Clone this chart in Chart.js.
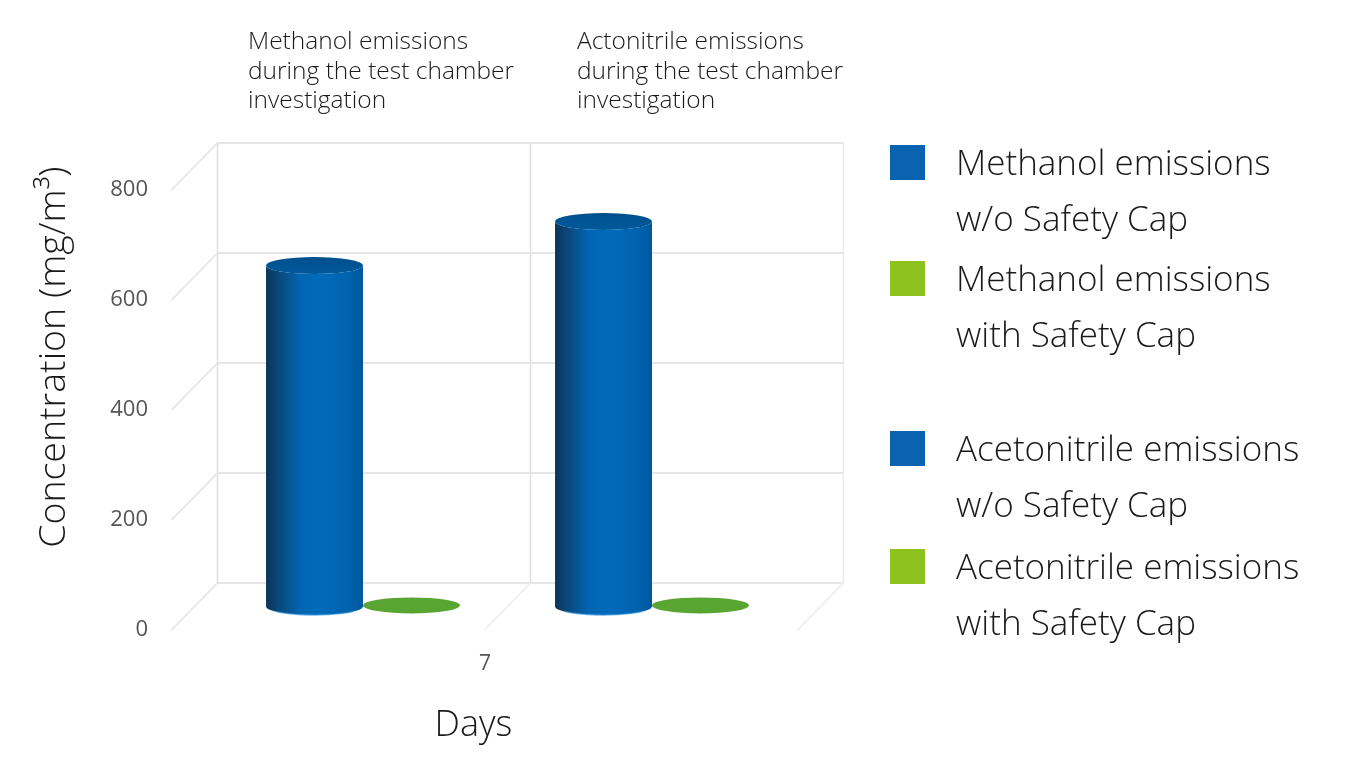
<!DOCTYPE html>
<html>
<head>
<meta charset="utf-8">
<script src="https://cdn.jsdelivr.net/npm/chart.js@4.4.1/dist/chart.umd.min.js"></script>
<style>
  html, body { margin: 0; padding: 0; background: #ffffff; }
  #wrap { position: relative; width: 1364px; height: 777px; overflow: hidden; font-family: "Open Sans", "Noto Sans", sans-serif; color: #1a1a1a; }
  #c { position: absolute; left: 0; top: 0; }
  .ctitle { position: absolute; font-size: 24.5px; line-height: 29.5px; white-space: nowrap; font-weight: 300; }
  .lg { position: absolute; left: 890px; }
  .lg .sw { position: absolute; left: 0; top: 10.5px; width: 35px; height: 35px; }
  .lg .tx { position: absolute; left: 66px; top: 0; font-size: 35px; line-height: 56px; white-space: nowrap; font-weight: 300; }
</style>
</head>
<body>
<div id="wrap">
  <canvas id="c" width="1364" height="777"></canvas>
</div>
<script>
// ---------------- data ----------------
const categories = ['Methanol', 'Acetonitrile'];
const xTickLabels = ['7', ''];
const yTicks = [0, 200, 400, 600, 800];
const seriesNames = [
  ['Methanol emissions', 'w/o Safety Cap'],
  ['Methanol emissions', 'with Safety Cap'],
  ['Acetonitrile emissions', 'w/o Safety Cap'],
  ['Acetonitrile emissions', 'with Safety Cap']
];
const methanolWithout = [620, null];
const methanolWith = [2, null];
const acetonitrileWithout = [null, 700];
const acetonitrileWith = [null, 2];
const chartTitles = [
  ['Methanol emissions', 'during the test chamber', 'investigation'],
  ['Actonitrile emissions', 'during the test chamber', 'investigation']
];
const yAxisTitle = 'Concentration (mg/m\u00B3)';
const xAxisTitle = 'Days';

// ---------------- styles ----------------
const FONT = '"Open Sans", "Noto Sans", sans-serif';
const seriesColors = ['#0a63b1', '#8dc21f', '#0a63b1', '#8dc21f'];
const seriesKinds = ['cyl', 'disc', 'cyl', 'disc'];
const titleLefts = [248, 577];
const legendTops = [134, 250, 420, 538];

const wrap = document.getElementById('wrap');
chartTitles.forEach((lines, i) => {
  const d = document.createElement('div');
  d.className = 'ctitle';
  d.style.left = titleLefts[i] + 'px';
  d.style.top = '25px';
  d.innerHTML = lines.join('<br>');
  wrap.appendChild(d);
});
seriesNames.forEach((lines, i) => {
  const e = document.createElement('div');
  e.className = 'lg';
  e.style.top = legendTops[i] + 'px';
  const sw = document.createElement('div');
  sw.className = 'sw';
  sw.style.background = seriesColors[i];
  const tx = document.createElement('div');
  tx.className = 'tx';
  tx.innerHTML = lines.join('<br>');
  e.appendChild(sw); e.appendChild(tx);
  wrap.appendChild(e);
});

// ---------------- 3D helpers ----------------
const DX = 23, DY = 23.5;   // offset mid-plane -> back wall
function seg(ctx, x1, y1, x2, y2) { ctx.beginPath(); ctx.moveTo(x1, y1); ctx.lineTo(x2, y2); ctx.stroke(); }

const wallPlugin = {
  id: 'wall3d',
  beforeDatasetsDraw(chart) {
    const { ctx, scales: { x, y } } = chart;
    const c0 = x.getPixelForValue(0), c1 = x.getPixelForValue(1);
    const xm = (c0 + c1) / 2 + DX;
    const half = (c1 - c0) * 1.083;
    const xl = xm - half, xr = xm + half;
    const yTop = y.getPixelForValue(y.max) - DY, yBot = y.getPixelForValue(y.min) - DY;
    ctx.save();
    ctx.lineWidth = 1.5;
    ctx.strokeStyle = '#dedede';
    y.ticks.forEach(t => { const yb = y.getPixelForValue(t.value) - DY; seg(ctx, xl, yb, xr, yb); });
    [xl, xm].forEach(xx => seg(ctx, xx, yTop, xx, yBot));
    ctx.strokeStyle = '#ececec';
    seg(ctx, xr, yTop, xr, yBot);
    ctx.strokeStyle = '#e2e2e2';
    y.ticks.forEach(t => { const yb = y.getPixelForValue(t.value) - DY; seg(ctx, xl, yb, xl - 2 * DX, yb + 2 * DY); });
    ctx.strokeStyle = '#ececec';
    [xm, xr].forEach(xx => seg(ctx, xx, yBot, xx - 2 * DX, yBot + 2 * DY));
    // x axis title
    ctx.fillStyle = '#1a1a1a';
    ctx.font = '300 36px ' + FONT;
    ctx.textAlign = 'center';
    ctx.textBaseline = 'middle';
    ctx.fillText(xAxisTitle, (c0 + c1) / 2 - 34, 726);
    ctx.restore();
  },
  beforeDatasetDraw(chart, args) {
    const { ctx } = chart;
    const kind = seriesKinds[args.index];
    const ds = chart.data.datasets[args.index];
    args.meta.data.forEach((el, i) => {
      if (ds.data[i] === null || ds.data[i] === undefined) return;
      const { x, y, base, width } = el.getProps(['x', 'y', 'base', 'width'], true);
      const rx = width / 2;
      ctx.save();
      if (kind === 'cyl') {
        const ry = 8.5;
        const g = ctx.createLinearGradient(x - rx, 0, x + rx, 0);
        g.addColorStop(0, '#0a3458');
        g.addColorStop(0.1, '#0b4472');
        g.addColorStop(0.35, '#0065b2');
        g.addColorStop(0.55, '#006bba');
        g.addColorStop(0.85, '#0063ae');
        g.addColorStop(1, '#00579c');
        ctx.fillStyle = g;
        ctx.beginPath();
        ctx.moveTo(x - rx, y);
        ctx.lineTo(x - rx, base);
        ctx.ellipse(x, base, rx, ry, 0, Math.PI, 0, true);
        ctx.lineTo(x + rx, y);
        ctx.ellipse(x, y, rx, ry, 0, 0, Math.PI, false);
        ctx.closePath();
        ctx.fill();
        // bottom rim highlight
        ctx.strokeStyle = 'rgba(40,140,215,0.6)';
        ctx.lineWidth = 1.5;
        ctx.beginPath();
        ctx.ellipse(x, base, rx - 1, ry, 0, Math.PI * 0.8, Math.PI * 0.2, true);
        ctx.stroke();
        // top cap
        const gt = ctx.createLinearGradient(0, y - ry, 0, y + ry);
        gt.addColorStop(0, '#004f8c');
        gt.addColorStop(1, '#005a9c');
        ctx.fillStyle = gt;
        ctx.beginPath();
        ctx.ellipse(x, y, rx, ry, 0, 0, Math.PI * 2);
        ctx.fill();
      } else {
        const ry = 8;
        ctx.fillStyle = '#58a532';
        ctx.beginPath();
        ctx.ellipse(x, y, rx, ry, 0, 0, Math.PI * 2);
        ctx.fill();
      }
      ctx.restore();
    });
    return false;
  }
};

const datasets = [methanolWithout, methanolWith, acetonitrileWithout, acetonitrileWith].map((d, i) => ({
  label: seriesNames[i].join(' '),
  data: d,
  backgroundColor: seriesColors[i],
  skipNull: true,
  barPercentage: 1,
  categoryPercentage: 0.671
}));

new Chart(document.getElementById('c'), {
  type: 'bar',
  data: { labels: categories, datasets },
  options: {
    responsive: false,
    devicePixelRatio: 1,
    animation: false,
    events: [],
    layout: { padding: { left: 0, top: 166.5, right: 1364 - 796.5, bottom: 0 } },
    plugins: { legend: { display: false }, tooltip: { enabled: false } },
    scales: {
      x: {
        grid: { display: false },
        border: { display: false },
        ticks: {
          callback: (v, i) => xTickLabels[i],
          labelOffset: 122,
          padding: 37,
          color: '#555555',
          font: { family: FONT, size: 21 },
          maxRotation: 0
        },
        afterFit: s => { s.height = 777 - 606.5; }
      },
      y: {
        min: 0, max: 800,
        afterBuildTicks: s => { s.ticks = yTicks.map(v => ({ value: v })); },
        grid: { display: false },
        border: { display: false },
        ticks: {
          labelOffset: 23.5,
          padding: 71.5 - 9,
          color: '#555555',
          font: { family: FONT, size: 22 }
        },
        title: {
          display: true,
          text: yAxisTitle,
          align: 'end',
          color: '#1a1a1a',
          font: { family: FONT, size: 37.5, weight: 300 },
          padding: { top: 32, bottom: 0 }
        },
        afterFit: s => { s.width = 218.5; }
      }
    }
  },
  plugins: [wallPlugin]
});
</script>
</body>
</html>
